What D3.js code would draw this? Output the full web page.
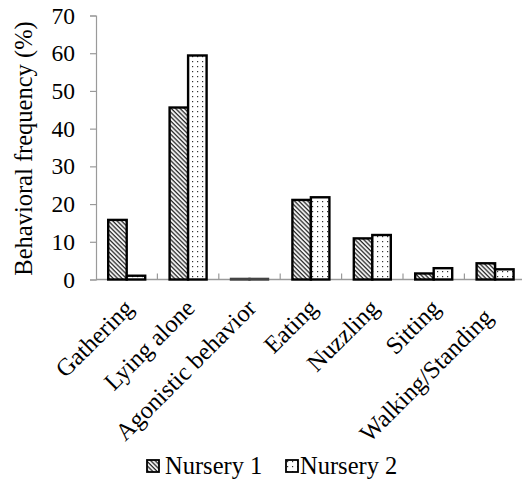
<!DOCTYPE html>
<html>
<head>
<meta charset="utf-8">
<script src="https://cdn.jsdelivr.net/npm/d3@7"></script>
<style>
  html, body { margin: 0; padding: 0; background: #fff; }
  svg { display: block; }
</style>
</head>
<body>
<div id="chart"></div>
<script>
const categories = ["Gathering", "Lying alone", "Agonistic behavior", "Eating", "Nuzzling", "Sitting", "Walking/Standing"];
const seriesNames = ["Nursery 1", "Nursery 2"];
const nursery1 = [15.8, 45.6, 0, 21.1, 10.9, 1.6, 4.3];
const nursery2 = [1.0, 59.4, 0, 21.8, 11.8, 3.0, 2.7];
const yTicks = [0, 10, 20, 30, 40, 50, 60, 70];

(function () {
const FONT = "'Liberation Serif', 'Times New Roman', serif";
const W = 523, H = 480;
const svg = d3.select("#chart").append("svg").attr("width", W).attr("height", H);

const defs = svg.append("defs");
const hatch = defs.append("pattern").attr("id", "hatch").attr("patternUnits", "userSpaceOnUse")
  .attr("width", 3.1).attr("height", 3.1).attr("patternTransform", "rotate(-45)");
hatch.append("rect").attr("width", 3.1).attr("height", 3.1).attr("fill", "#fff");
hatch.append("line").attr("x1", 1).attr("y1", 0).attr("x2", 1).attr("y2", 3.1)
  .attr("stroke", "#2a2a2a").attr("stroke-width", 1.35);

const dots = defs.append("pattern").attr("id", "dots").attr("patternUnits", "userSpaceOnUse")
  .attr("width", 5).attr("height", 5);
dots.append("rect").attr("width", 5).attr("height", 5).attr("fill", "#fff");
dots.append("rect").attr("x", 2).attr("y", 1).attr("width", 1.2).attr("height", 1.2).attr("fill", "#333");

const fills = ["url(#hatch)", "url(#dots)"];

const plotLeft = 96, plotBottom = 279.5, plotTop = 15.5, bandW = 61.4;
const x = d3.scaleBand().domain(categories).range([plotLeft, plotLeft + bandW * categories.length]).padding(0);
const barsTotal = 37;
const x1 = d3.scaleBand().domain(seriesNames)
  .range([(x.bandwidth() - barsTotal) / 2, (x.bandwidth() + barsTotal) / 2]).padding(0);
const y = d3.scaleLinear().domain([0, 70]).range([plotBottom, plotTop]);

// Y axis
const yAxis = svg.append("g").attr("transform", `translate(${plotLeft},0)`)
  .call(d3.axisLeft(y).tickValues(yTicks).tickSize(6).tickPadding(15).tickFormat(d3.format("d")));
yAxis.select(".domain").attr("stroke", "#9a9a9a").attr("stroke-width", 1.2);
yAxis.selectAll(".tick line").attr("stroke", "#9a9a9a").attr("stroke-width", 1.2);
yAxis.selectAll(".tick text").attr("font-size", 23.5).style("font-family", FONT).attr("fill", "#000");

// X axis line and category boundary ticks
const xAxisG = svg.append("g");
xAxisG.append("line").attr("x1", plotLeft).attr("x2", W - 1).attr("y1", plotBottom).attr("y2", plotBottom)
  .attr("stroke", "#9a9a9a").attr("stroke-width", 1.5);
xAxisG.selectAll("line.tk").data(categories.slice(1)).join("line").attr("class", "tk")
  .attr("x1", d => x(d)).attr("x2", d => x(d)).attr("y1", plotBottom).attr("y2", plotBottom - 6)
  .attr("stroke", "#9a9a9a").attr("stroke-width", 1.2);

// Bars
const seriesData = [nursery1, nursery2];
const gBars = svg.append("g");
categories.forEach((c, i) => {
  seriesNames.forEach((s, j) => {
    const v = seriesData[j][i];
    const h = Math.max(0.6, y(0) - y(v));
    gBars.append("rect")
      .attr("x", x(c) + x1(s))
      .attr("y", y(0) - h)
      .attr("width", x1.bandwidth())
      .attr("height", h)
      .attr("fill", fills[j])
      .attr("stroke", v === 0 ? "#444" : "#000")
      .attr("stroke-width", 2.4);
  });
});

// Category labels (the last one is nudged back along its direction, as in the source)
svg.append("g").selectAll("text").data(categories).join("text")
  .attr("transform", (d, i) => {
    const back = i === categories.length - 1 ? 9 : 0;
    return `translate(${x(d) + x.bandwidth() / 2 + 2 - back},${plotBottom + 24 + back}) rotate(-45)`;
  })
  .attr("text-anchor", "end")
  .attr("dy", "0.35em")
  .attr("font-size", 24.5)
  .style("font-family", FONT)
  .attr("fill", "#000")
  .text(d => d);

// Y title
svg.append("text")
  .attr("transform", `translate(32,${(plotTop + plotBottom) / 2 + 1}) rotate(-90)`)
  .attr("text-anchor", "middle")
  .attr("font-size", 24.5)
  .style("font-family", FONT)
  .attr("fill", "#000")
  .text("Behavioral frequency (%)");

// Legend
const legendX = [147, 286];
const legendTextGap = [18, 14];
const lg = svg.append("g");
seriesNames.forEach((s, j) => {
  lg.append("rect").attr("x", legendX[j]).attr("y", 460).attr("width", 12).attr("height", 12)
    .attr("fill", fills[j]).attr("stroke", "#000").attr("stroke-width", 1.8);
  lg.append("text").attr("x", legendX[j] + legendTextGap[j]).attr("y", 474).attr("font-size", 24.5)
    .style("font-family", FONT).attr("fill", "#000").text(s);
});
})();
</script>
</body>
</html>
